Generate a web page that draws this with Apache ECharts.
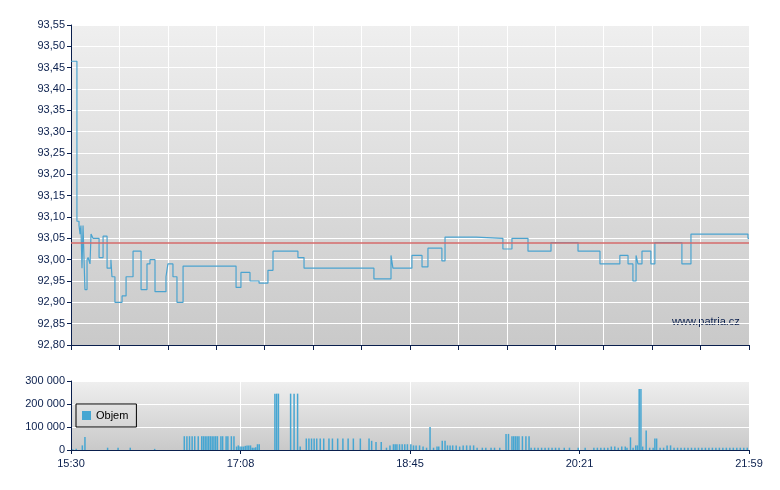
<!DOCTYPE html>
<html><head><meta charset="utf-8">
<script src="https://cdn.jsdelivr.net/npm/echarts@6/dist/echarts.min.js"></script>
<style>html,body{margin:0;background:#fff}#c{width:780px;height:490px}</style></head>
<body><div id="c"></div>
<script>
// minutes after 15:30
const timeLabels = ['15:30','17:08','18:45','20:21','21:59'];
const priceData = [[0,93.465],[3.4,93.09],[4.6,93.08],[5.2,93.06],[5.7,93.08],[6.3,92.98],[6.9,93.08],[8.0,92.93],[9.2,93.0],[9.8,93.005],[10.9,92.99],[11.5,93.06],[12.6,93.05],[16.1,93.005],[18.4,93.055],[20.7,92.98],[22.9,93.0],[23.5,92.96],[25.2,92.9],[29.3,92.915],[31.6,92.96],[35.6,93.02],[40.2,92.93],[43.6,92.99],[45.3,93.0],[48.2,92.925],[54.5,92.96],[55.6,92.99],[58.5,92.96],[60.8,92.9],[64.3,92.985],[94.7,92.935],[97.5,92.97],[102.7,92.95],[107.9,92.945],[113.0,92.975],[115.9,93.02],[130.2,93.005],[133.7,92.98],[173.8,92.955],[183.6,93.01],[184.7,92.98],[195.6,93.01],[201.4,92.983],[204.8,93.027],[212.8,92.997],[214.6,93.053],[232.4,93.05],[247.8,93.025],[253.0,93.05],[262.2,93.02],[275.4,93.04],[290.9,93.02],[303.5,92.99],[314.9,93.01],[319.6,92.99],[322.4,92.95],[324.2,93.01],[325.3,92.99],[327.6,93.02],[332.7,92.99],[335.0,93.04],[341.9,93.04],[350.5,92.99],[355.7,93.06],[388.4,93.05],[389,93.05]];
const referencePrice = 93.04;
const volumeData = [[1,3000],[3,5000],[8,57000],[6.5,20000],[21,10000],[27,10000],[34,10000],[48,5000],
[65,60000],[66.5,60000],[68,60000],[69.5,60000],[71,60000],[73,60000],[75,60000],[76,60000],[77,60000],[78,60000],[79,60000],[80,60000],[81,60000],[82,60000],[83,60000],[84,60000],[86,60000],[87,60000],[89,60000],[90,60000],[92,60000],[93.5,60000],
[95,15000],[96,20000],[97,15000],[98,15000],[99,15000],[100,18000],[101,20000],[102,20000],[103,20000],[104,10000],[105,10000],[106,12000],[107,25000],[108,25000],
[117,245000],[118,245000],[119,245000],[126,245000],[128,245000],[130,245000],[131.5,15000],
[135,50000],[136.5,50000],[138,50000],[139.5,50000],[141,50000],[143,50000],[145,50000],[148,50000],[150,50000],[153,50000],[156,50000],[159,50000],[162,50000],[166,50000],
[171,50000],[172.5,40000],[175,35000],[178,35000],[181,10000],[183,20000],[185,25000],[186,25000],[187,25000],[188.5,25000],[190,25000],[191.5,25000],[193,25000],[195,25000],[196.5,20000],[198,20000],[200,20000],[202,15000],[204,10000],[206,100000],
[208,10000],[210,15000],[211,15000],[213,40000],[214.6,40000],[216,20000],[217.5,20000],[219,20000],[221,20000],[223,15000],[225,20000],[227,20000],[229,20000],[231,20000],[233,10000],[236,10000],[238,10000],[241,10000],[243,10000],[246,10000],
[249.6,70000],[251,70000],[253,60000],[254,60000],[255,60000],[256,60000],[257,60000],[259,60000],[261,60000],[262.8,60000],[264,10000],[266,10000],[268,10000],[270,10000],[272,10000],[274,10000],[276,10000],[278,10000],[280,10000],[283,10000],[286,10000],[291,10000],[295,10000],
[300,10000],[302,10000],[304,10000],[306,10000],[308,10000],[310,15000],[312,15000],[314,10000],[316,15000],[318,15000],[319,10000],[321,55000],[322.5,10000],[324,20000],[325,20000],
[326,265000],[327,265000],[328,15000],[330,85000],[332,10000],[334,10000],[335,50000],[336,50000],[338,10000],[340,10000],[342,20000],[344,20000],[346,10000],[348,10000],[350,10000],[352,10000],[354,10000],[356,10000],[358,10000],[360,10000],[362,10000],[364,10000],[366,10000],[368,10000],[370,10000],[372,10000],[374,10000],[376,10000],[378,10000],[380,10000],[382,10000],[384,10000],[386,10000],[388,10000]];

const navy = '#0a1f4d';
const bg = {type:'linear',x:0,y:0,x2:0,y2:1,colorStops:[{offset:0,color:'#efefef'},{offset:1,color:'#c9c9c9'}]};
const chart = echarts.init(document.getElementById('c'));
const axisLine = {show:true,lineStyle:{color:navy,width:1}};
chart.setOption({
  animation:false,
  textStyle:{fontFamily:'Liberation Sans, Arial, sans-serif'},
  grid:[
    {left:71,right:31,top:25,height:320,show:true,backgroundColor:bg,borderWidth:0},
    {left:71,right:31,top:381,height:69,show:true,backgroundColor:bg,borderWidth:0}
  ],
  legend:{show:true,gridIndex:1,data:['Objem'],left:76,top:404,orient:'vertical',borderColor:'#000',borderWidth:1,padding:[6,8,6,6],backgroundColor:'transparent',itemWidth:9,itemHeight:9,itemGap:4,textStyle:{fontSize:11,color:'#000'},icon:'rect'},
  xAxis:[
    {type:'value',gridIndex:0,min:0,max:389,interval:389/14,axisLine:axisLine,axisTick:{show:true,length:5,lineStyle:{color:navy}},axisLabel:{show:false},splitLine:{show:true,lineStyle:{color:'#fff',width:1}}},
    {type:'value',gridIndex:1,min:0,max:389,interval:389/4,axisLine:axisLine,axisTick:{show:true,length:4,lineStyle:{color:navy}},
     axisLabel:{color:navy,fontSize:11,formatter:(v)=>{const i=Math.round(v/(389/4));return timeLabels[i]||'';},showMaxLabel:true},splitLine:{show:true,lineStyle:{color:'#fff'}}}
  ],
  yAxis:[
    {type:'value',gridIndex:0,min:92.80,max:93.55,interval:0.05,axisLine:axisLine,axisTick:{show:true,length:4,lineStyle:{color:navy}},
     axisLabel:{color:navy,fontSize:11,margin:6,formatter:v=>v.toFixed(2).replace('.',',')},splitLine:{show:true,lineStyle:{color:'#fff'}}},
    {type:'value',gridIndex:1,min:0,max:300000,interval:100000,axisLine:axisLine,axisTick:{show:true,length:4,lineStyle:{color:navy}},
     axisLabel:{color:navy,fontSize:11,margin:6,formatter:v=>v===0?'0':String(v/1000)+' 000'},splitLine:{show:true,lineStyle:{color:'#fff'}}}
  ],
  graphic:[{type:'text',left:672,top:316,style:{text:'www.patria.cz',fill:navy,font:'11px Liberation Sans, Arial, sans-serif'}}],
  series:[
    {name:'Cena',type:'line',xAxisIndex:0,yAxisIndex:0,step:'end',data:priceData,showSymbol:false,lineStyle:{color:'#4ba3cf',width:1.2},
     markLine:{silent:true,symbol:'none',label:{show:false},lineStyle:{color:'#d46a6a',type:'solid',width:1.5},data:[{yAxis:referencePrice}]}},
    {name:'Objem',type:'bar',xAxisIndex:1,yAxisIndex:1,data:volumeData,barWidth:1.5,itemStyle:{color:'#46a6d2',borderColor:'#46a6d2',borderWidth:0}}
  ]
});
</script></body></html>
